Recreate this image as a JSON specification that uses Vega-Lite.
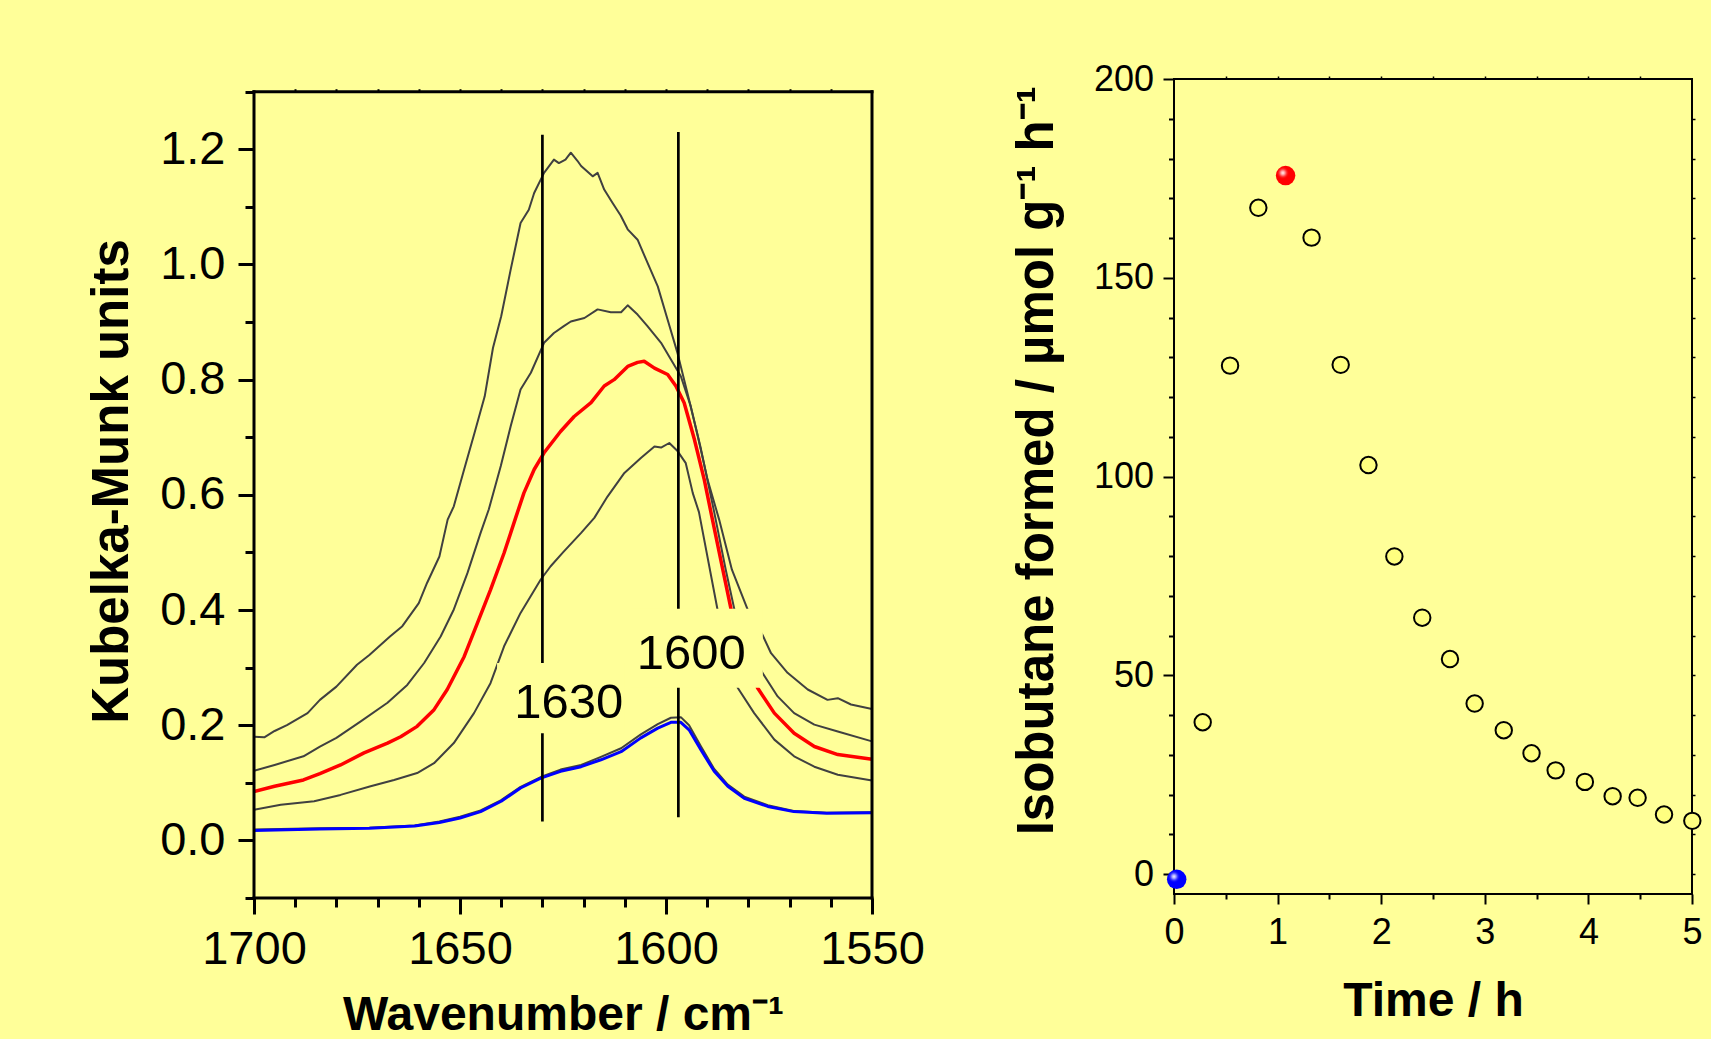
{
  "$schema": "https://vega.github.io/schema/vega-lite/v6.json",
  "background": "#FFFF99",
  "padding": {"left": 86, "top": 60, "right": 5, "bottom": 5},
  "autosize": {"type": "pad"},
  "spacing": 302,
  "bounds": "flush",
  "config": {
    "view": {"stroke": null},
    "font": "Liberation Sans",
    "axis": {"labelFont": "Liberation Sans", "titleFont": "Liberation Sans", "labelColor": "black", "titleColor": "black", "tickColor": "black", "grid": false, "domain": false, "labelOverlap": false, "labelFlush": false, "labelBound": false}
  },
  "datasets": {
    "gray": [
      {"s":"c1","wn":1700,"km":0.180},{"s":"c1","wn":1697.5,"km":0.179},{"s":"c1","wn":1695,"km":0.190},{"s":"c1","wn":1692,"km":0.200},{"s":"c1","wn":1687,"km":0.221},{"s":"c1","wn":1684,"km":0.244},{"s":"c1","wn":1680,"km":0.267},{"s":"c1","wn":1675,"km":0.305},{"s":"c1","wn":1672,"km":0.322},{"s":"c1","wn":1667,"km":0.354},{"s":"c1","wn":1664,"km":0.372},{"s":"c1","wn":1660,"km":0.412},{"s":"c1","wn":1658,"km":0.447},{"s":"c1","wn":1655,"km":0.493},{"s":"c1","wn":1653,"km":0.557},{"s":"c1","wn":1651.5,"km":0.580},{"s":"c1","wn":1649,"km":0.644},{"s":"c1","wn":1646.5,"km":0.707},{"s":"c1","wn":1644,"km":0.771},{"s":"c1","wn":1642,"km":0.855},{"s":"c1","wn":1640,"km":0.910},{"s":"c1","wn":1637.7,"km":0.991},{"s":"c1","wn":1635.3,"km":1.072},{"s":"c1","wn":1633.3,"km":1.095},{"s":"c1","wn":1632,"km":1.124},{"s":"c1","wn":1629.6,"km":1.159},{"s":"c1","wn":1627.2,"km":1.182},{"s":"c1","wn":1626,"km":1.176},{"s":"c1","wn":1624.4,"km":1.182},{"s":"c1","wn":1623.1,"km":1.194},{"s":"c1","wn":1621.5,"km":1.180},{"s":"c1","wn":1620.6,"km":1.171},{"s":"c1","wn":1617.8,"km":1.153},{"s":"c1","wn":1616.6,"km":1.159},{"s":"c1","wn":1615,"km":1.130},{"s":"c1","wn":1613,"km":1.107},{"s":"c1","wn":1611,"km":1.085},{"s":"c1","wn":1609.3,"km":1.061},{"s":"c1","wn":1606.9,"km":1.043},{"s":"c1","wn":1604.5,"km":1.003},{"s":"c1","wn":1602,"km":0.962},{"s":"c1","wn":1599.6,"km":0.904},{"s":"c1","wn":1597.2,"km":0.846},{"s":"c1","wn":1594.8,"km":0.777},{"s":"c1","wn":1592.3,"km":0.702},{"s":"c1","wn":1589.9,"km":0.626},{"s":"c1","wn":1587.1,"km":0.557},{"s":"c1","wn":1584,"km":0.470},{"s":"c1","wn":1580.2,"km":0.401},{"s":"c1","wn":1576.6,"km":0.357},{"s":"c1","wn":1574.5,"km":0.325},{"s":"c1","wn":1570.5,"km":0.291},{"s":"c1","wn":1565.6,"km":0.262},{"s":"c1","wn":1560.8,"km":0.244},{"s":"c1","wn":1558.3,"km":0.247},{"s":"c1","wn":1555.1,"km":0.236},{"s":"c1","wn":1550,"km":0.228},
      {"s":"c2","wn":1700,"km":0.121},{"s":"c2","wn":1695,"km":0.131},{"s":"c2","wn":1688,"km":0.146},{"s":"c2","wn":1684,"km":0.163},{"s":"c2","wn":1680,"km":0.178},{"s":"c2","wn":1674,"km":0.207},{"s":"c2","wn":1667.6,"km":0.239},{"s":"c2","wn":1662.8,"km":0.270},{"s":"c2","wn":1658.7,"km":0.308},{"s":"c2","wn":1654.7,"km":0.354},{"s":"c2","wn":1651.5,"km":0.401},{"s":"c2","wn":1648.2,"km":0.464},{"s":"c2","wn":1645,"km":0.534},{"s":"c2","wn":1643,"km":0.575},{"s":"c2","wn":1640.1,"km":0.650},{"s":"c2","wn":1637.7,"km":0.719},{"s":"c2","wn":1635.3,"km":0.783},{"s":"c2","wn":1632.8,"km":0.812},{"s":"c2","wn":1629.6,"km":0.864},{"s":"c2","wn":1627.2,"km":0.881},{"s":"c2","wn":1624.8,"km":0.893},{"s":"c2","wn":1623.1,"km":0.901},{"s":"c2","wn":1619.8,"km":0.907},{"s":"c2","wn":1616.6,"km":0.922},{"s":"c2","wn":1613.4,"km":0.917},{"s":"c2","wn":1610.9,"km":0.917},{"s":"c2","wn":1609.3,"km":0.929},{"s":"c2","wn":1606.9,"km":0.913},{"s":"c2","wn":1604.5,"km":0.893},{"s":"c2","wn":1601.2,"km":0.864},{"s":"c2","wn":1598.8,"km":0.835},{"s":"c2","wn":1596.4,"km":0.806},{"s":"c2","wn":1594,"km":0.754},{"s":"c2","wn":1591.5,"km":0.679},{"s":"c2","wn":1588.3,"km":0.570},{"s":"c2","wn":1585.5,"km":0.470},{"s":"c2","wn":1583.4,"km":0.401},{"s":"c2","wn":1576.6,"km":0.291},{"s":"c2","wn":1572.9,"km":0.250},{"s":"c2","wn":1568.9,"km":0.221},{"s":"c2","wn":1564,"km":0.201},{"s":"c2","wn":1558.3,"km":0.189},{"s":"c2","wn":1550,"km":0.172},
      {"s":"c3","wn":1700,"km":0.053},{"s":"c3","wn":1693.5,"km":0.062},{"s":"c3","wn":1685.4,"km":0.068},{"s":"c3","wn":1679,"km":0.079},{"s":"c3","wn":1671.7,"km":0.094},{"s":"c3","wn":1666,"km":0.105},{"s":"c3","wn":1660.4,"km":0.117},{"s":"c3","wn":1656.3,"km":0.134},{"s":"c3","wn":1651.5,"km":0.169},{"s":"c3","wn":1646.6,"km":0.221},{"s":"c3","wn":1642.6,"km":0.273},{"s":"c3","wn":1639.3,"km":0.337},{"s":"c3","wn":1635.3,"km":0.395},{"s":"c3","wn":1630.4,"km":0.453},{"s":"c3","wn":1628,"km":0.476},{"s":"c3","wn":1625,"km":0.500},{"s":"c3","wn":1620.6,"km":0.534},{"s":"c3","wn":1617.4,"km":0.560},{"s":"c3","wn":1614.2,"km":0.597},{"s":"c3","wn":1610.1,"km":0.638},{"s":"c3","wn":1606.1,"km":0.664},{"s":"c3","wn":1602.8,"km":0.684},{"s":"c3","wn":1601.2,"km":0.682},{"s":"c3","wn":1599.2,"km":0.690},{"s":"c3","wn":1597.2,"km":0.676},{"s":"c3","wn":1595.2,"km":0.655},{"s":"c3","wn":1593.5,"km":0.603},{"s":"c3","wn":1592,"km":0.570},{"s":"c3","wn":1587.5,"km":0.401},{"s":"c3","wn":1582.6,"km":0.265},{"s":"c3","wn":1578.6,"km":0.221},{"s":"c3","wn":1573.7,"km":0.175},{"s":"c3","wn":1568.9,"km":0.146},{"s":"c3","wn":1564,"km":0.128},{"s":"c3","wn":1558.3,"km":0.114},{"s":"c3","wn":1550,"km":0.104},
      {"s":"c4","wn":1700,"km":0.019},{"s":"c4","wn":1684,"km":0.021},{"s":"c4","wn":1672,"km":0.022},{"s":"c4","wn":1661,"km":0.026},{"s":"c4","wn":1655,"km":0.033},{"s":"c4","wn":1650,"km":0.041},{"s":"c4","wn":1645,"km":0.052},{"s":"c4","wn":1640,"km":0.070},{"s":"c4","wn":1635.3,"km":0.093},{"s":"c4","wn":1630.4,"km":0.110},{"s":"c4","wn":1625.6,"km":0.123},{"s":"c4","wn":1620.6,"km":0.131},{"s":"c4","wn":1615.8,"km":0.145},{"s":"c4","wn":1610.9,"km":0.160},{"s":"c4","wn":1606.1,"km":0.184},{"s":"c4","wn":1602,"km":0.202},{"s":"c4","wn":1598.8,"km":0.213},{"s":"c4","wn":1596.4,"km":0.214},{"s":"c4","wn":1594.4,"km":0.200},{"s":"c4","wn":1591.5,"km":0.163},{"s":"c4","wn":1588.3,"km":0.124},{"s":"c4","wn":1585,"km":0.097},{"s":"c4","wn":1581,"km":0.076},{"s":"c4","wn":1575.3,"km":0.061},{"s":"c4","wn":1569,"km":0.051},{"s":"c4","wn":1561,"km":0.048},{"s":"c4","wn":1550,"km":0.049}
    ],
    "red": [
      {"wn":1700,"km":0.085},{"wn":1695,"km":0.094},{"wn":1688,"km":0.105},{"wn":1684,"km":0.116},{"wn":1679,"km":0.131},{"wn":1673.3,"km":0.152},{"wn":1667.6,"km":0.169},{"wn":1664.4,"km":0.180},{"wn":1660.4,"km":0.198},{"wn":1656.3,"km":0.227},{"wn":1653.1,"km":0.262},{"wn":1649,"km":0.319},{"wn":1645.8,"km":0.377},{"wn":1642.6,"km":0.435},{"wn":1639.3,"km":0.499},{"wn":1636.5,"km":0.560},{"wn":1634.5,"km":0.603},{"wn":1632,"km":0.644},{"wn":1629.6,"km":0.673},{"wn":1625.6,"km":0.710},{"wn":1622.3,"km":0.736},{"wn":1618.2,"km":0.760},{"wn":1615,"km":0.789},{"wn":1612.6,"km":0.800},{"wn":1609.3,"km":0.823},{"wn":1606.9,"km":0.830},{"wn":1605.3,"km":0.832},{"wn":1602.8,"km":0.820},{"wn":1599.6,"km":0.809},{"wn":1597.6,"km":0.789},{"wn":1595.6,"km":0.760},{"wn":1593.1,"km":0.696},{"wn":1590.7,"km":0.626},{"wn":1589.1,"km":0.570},{"wn":1586.5,"km":0.480},{"wn":1584.2,"km":0.401},{"wn":1577.8,"km":0.265},{"wn":1573.7,"km":0.221},{"wn":1568.9,"km":0.186},{"wn":1564,"km":0.163},{"wn":1558.3,"km":0.149},{"wn":1550,"km":0.141}
    ],
    "blue": [
      {"wn":1700,"km":0.017},{"wn":1684,"km":0.020},{"wn":1672,"km":0.021},{"wn":1661,"km":0.025},{"wn":1655,"km":0.031},{"wn":1650,"km":0.039},{"wn":1645,"km":0.050},{"wn":1640,"km":0.068},{"wn":1635.3,"km":0.091},{"wn":1630.4,"km":0.108},{"wn":1625.6,"km":0.120},{"wn":1620.6,"km":0.128},{"wn":1615.8,"km":0.140},{"wn":1610.9,"km":0.154},{"wn":1606.1,"km":0.178},{"wn":1602,"km":0.195},{"wn":1598.8,"km":0.205},{"wn":1596.4,"km":0.205},{"wn":1594.4,"km":0.192},{"wn":1591.5,"km":0.157},{"wn":1588.3,"km":0.120},{"wn":1585,"km":0.094},{"wn":1581,"km":0.073},{"wn":1575.3,"km":0.059},{"wn":1569,"km":0.050},{"wn":1561,"km":0.047},{"wn":1550,"km":0.048}
    ],
    "vlines": [
      {"wn": 1630, "y1": 0.033, "y2": 1.225},
      {"wn": 1597, "y1": 0.040, "y2": 1.230}
    ],
    "frame": [
      {"x1": 1700, "x2": 1700, "y1": -0.1, "y2": 1.3},
      {"x1": 1550, "x2": 1550, "y1": -0.1, "y2": 1.3},
      {"x1": 1700, "x2": 1550, "y1": 1.3, "y2": 1.3},
      {"x1": 1700, "x2": 1550, "y1": -0.1, "y2": -0.1}
    ],
    "masks": [
      {"x1": 1641, "x2": 1610, "y1": 0.186, "y2": 0.308},
      {"x1": 1608.5, "x2": 1576.5, "y1": 0.265, "y2": 0.402}
    ],
    "peaklabels": [
      {"wn": 1623.6, "km": 0.212, "label": "1630"},
      {"wn": 1593.9, "km": 0.2975, "label": "1600"}
    ],
    "rate": [
      {"t": 0.277, "v": 38.2}, {"t": 0.541, "v": 127.9}, {"t": 0.814, "v": 167.6}, {"t": 1.328, "v": 160.1}, {"t": 1.609, "v": 128.1}, {"t": 1.877, "v": 102.9}, {"t": 2.127, "v": 79.9}, {"t": 2.396, "v": 64.5}, {"t": 2.664, "v": 54.1}, {"t": 2.902, "v": 42.9}, {"t": 3.183, "v": 36.2}, {"t": 3.451, "v": 30.4}, {"t": 3.684, "v": 26.1}, {"t": 3.966, "v": 23.2}, {"t": 4.234, "v": 19.6}, {"t": 4.475, "v": 19.2}, {"t": 4.730, "v": 15.0}, {"t": 5.003, "v": 13.4}
    ],
    "rate_red": [{"t": 1.077, "v": 175.7}],
    "rate_blue": [{"t": 0.026, "v": -1.3}]
  },
  "hconcat": [
    {
      "width": 618,
      "height": 819,
      "view": {"stroke": null},
      "resolve": {"axis": {"x": "independent", "y": "independent"}},
      "layer": [
        {
          "data": {"name": "gray"},
          "mark": {"type": "line", "strokeJoin": "round", "color": "#404040", "strokeWidth": 2},
          "encoding": {
            "detail": {"field": "s", "type": "nominal"},
            "x": {"field": "wn", "type": "quantitative",
              "scale": {"domain": [1550, 1700], "reverse": true, "nice": false, "zero": false},
              "axis": {
                "orient": "bottom",
                "title": "Wavenumber / cm⁻¹",
                "values": [1550, 1600, 1650, 1700],
                "format": "d",
                "tickSize": 16,
                "tickWidth": 3,
                "labelFontSize": 47,
                "labelPadding": 12,
                "titleFontSize": 48,
                "titleFontWeight": "bold",
                "titleBaseline": "alphabetic",
                "titleY": 131.7
              }},
            "y": {"field": "km", "type": "quantitative",
              "scale": {"domain": [-0.1, 1.322], "nice": false, "zero": false},
              "axis": {
                "orient": "left",
                "title": "Kubelka-Munk units",
                "values": [0, 0.2, 0.4, 0.6, 0.8, 1.0, 1.2],
                "format": ".1f",
                "tickSize": 16,
                "tickWidth": 3,
                "labelFontSize": 47,
                "labelPadding": 13,
                "titleFontSize": 51,
                "titleFontWeight": "bold",
                "titleBaseline": "alphabetic",
                "titleX": -126.3,
                "titleY": 402
              }}
          }
        },
        {
          "data": {"name": "red"},
          "mark": {"type": "line", "strokeJoin": "round", "color": "#ff0000", "strokeWidth": 3.5},
          "encoding": {
            "x": {"field": "wn", "type": "quantitative", "axis": null},
            "y": {"field": "km", "type": "quantitative", "axis": null}
          }
        },
        {
          "data": {"name": "blue"},
          "mark": {"type": "line", "strokeJoin": "round", "color": "#0000ff", "strokeWidth": 3},
          "encoding": {
            "x": {"field": "wn", "type": "quantitative", "axis": null},
            "y": {"field": "km", "type": "quantitative", "axis": null}
          }
        },
        {
          "data": {"name": "vlines"},
          "mark": {"type": "rule", "color": "black", "strokeWidth": 2.7},
          "encoding": {
            "x": {"field": "wn", "type": "quantitative",
              "axis": {"orient": "bottom", "title": null, "labels": false, "values": [1560,1570,1580,1590,1610,1620,1630,1640,1660,1670,1680,1690], "tickSize": 9, "tickWidth": 3}},
            "y": {"field": "y1", "type": "quantitative",
              "axis": {"orient": "left", "title": null, "labels": false, "values": [-0.1,0.1,0.3,0.5,0.7,0.9,1.1,1.3], "tickSize": 9, "tickWidth": 3}},
            "y2": {"field": "y2"}
          }
        },
        {
          "data": {"name": "masks"},
          "mark": {"type": "rect", "fill": "#FFFF99", "stroke": null},
          "encoding": {
            "x": {"field": "x1", "type": "quantitative",
              "axis": {"orient": "top", "offset": -12.7, "title": null, "labels": false, "values": [1560,1570,1580,1590,1600,1610,1620,1630,1640,1650,1660,1670,1680,1690], "tickSize": 3, "tickWidth": 2}},
            "x2": {"field": "x2"},
            "y": {"field": "y1", "type": "quantitative", "axis": null},
            "y2": {"field": "y2"}
          }
        },
        {
          "data": {"name": "frame"},
          "mark": {"type": "rule", "color": "black", "strokeWidth": 3, "strokeCap": "square"},
          "encoding": {
            "x": {"field": "x1", "type": "quantitative", "axis": null},
            "x2": {"field": "x2"},
            "y": {"field": "y1", "type": "quantitative", "axis": null},
            "y2": {"field": "y2"}
          }
        },
        {
          "data": {"name": "peaklabels"},
          "mark": {"type": "text", "font": "Liberation Sans", "fontSize": 49, "align": "center", "baseline": "alphabetic", "color": "black"},
          "encoding": {
            "x": {"field": "wn", "type": "quantitative", "axis": null},
            "y": {"field": "km", "type": "quantitative", "axis": null},
            "text": {"field": "label"}
          }
        }
      ]
    },
    {
      "width": 518,
      "height": 815,
      "view": {"stroke": "black", "strokeWidth": 2},
      "resolve": {"axis": {"x": "independent", "y": "independent"}},
      "layer": [
        {
          "data": {"name": "rate"},
          "mark": {"type": "circle", "size": 270, "fill": "#FFFF80", "stroke": "black", "strokeWidth": 2, "opacity": 1},
          "encoding": {
            "x": {"field": "t", "type": "quantitative",
              "scale": {"domain": [0, 5], "nice": false, "zero": false},
              "axis": {
                "orient": "bottom",
                "title": "Time / h",
                "values": [0, 1, 2, 3, 4, 5],
                "format": "d",
                "tickSize": 10,
                "tickWidth": 2,
                "labelFontSize": 36,
                "labelPadding": 11.6,
                "titleFontSize": 48,
                "titleFontWeight": "bold",
                "titleBaseline": "alphabetic",
                "titleY": 121.1
              }},
            "y": {"field": "v", "type": "quantitative",
              "scale": {"domain": [-5, 200], "nice": false, "zero": false},
              "axis": {
                "orient": "left",
                "title": "Isobutane formed / µmol g⁻¹ h⁻¹",
                "values": [0, 50, 100, 150, 200],
                "format": "d",
                "tickSize": 11,
                "tickWidth": 2,
                "labelFontSize": 36,
                "labelPadding": 9.5,
                "titleFontSize": 51,
                "titleFontWeight": "bold",
                "titleBaseline": "alphabetic",
                "titleX": -122,
                "titleY": 381.3
              }}
          }
        },
        {
          "data": {"name": "rate_red"},
          "mark": {"type": "circle", "size": 380, "opacity": 1, "stroke": null, "fill": "#ff0000"},
          "encoding": {
            "x": {"field": "t", "type": "quantitative",
              "axis": {"orient": "bottom", "title": null, "labels": false, "values": [0.5, 1.5, 2.5, 3.5, 4.5], "tickSize": 5, "tickWidth": 2}},
            "y": {"field": "v", "type": "quantitative",
              "axis": {"orient": "left", "title": null, "labels": false, "values": [10,20,30,40,60,70,80,90,110,120,130,140,160,170,180,190], "tickSize": 5.5, "tickWidth": 2}}
          }
        },
        {
          "data": {"name": "rate_red"},
          "mark": {"type": "circle", "size": 380, "opacity": 1, "stroke": null,
            "fill": {"gradient": "radial", "x1": 0.36, "y1": 0.36, "r1": 0, "x2": 0.36, "y2": 0.36, "r2": 0.32,
              "stops": [{"offset": 0, "color": "rgba(255,255,255,1)"}, {"offset": 0.35, "color": "rgba(255,190,190,0.8)"}, {"offset": 1, "color": "rgba(255,0,0,0)"}]}},
          "encoding": {
            "x": {"field": "t", "type": "quantitative", "axis": null},
            "y": {"field": "v", "type": "quantitative", "axis": null}
          }
        },
        {
          "data": {"name": "rate_blue"},
          "mark": {"type": "circle", "size": 380, "opacity": 1, "stroke": null, "fill": "#0000ff"},
          "encoding": {
            "x": {"field": "t", "type": "quantitative",
              "axis": {"orient": "top", "title": null, "labels": false, "values": [0.5,1,1.5,2,2.5,3,3.5,4,4.5], "tickSize": 3, "tickWidth": 1.5}},
            "y": {"field": "v", "type": "quantitative",
              "axis": {"orient": "right", "title": null, "labels": false, "values": [0,10,20,30,40,50,60,70,80,90,100,110,120,130,140,150,160,170,180,190], "tickSize": 3, "tickWidth": 1.5}}
          }
        },
        {
          "data": {"name": "rate_blue"},
          "mark": {"type": "circle", "size": 380, "opacity": 1, "stroke": null,
            "fill": {"gradient": "radial", "x1": 0.36, "y1": 0.36, "r1": 0, "x2": 0.36, "y2": 0.36, "r2": 0.32,
              "stops": [{"offset": 0, "color": "rgba(255,255,255,1)"}, {"offset": 0.35, "color": "rgba(190,190,255,0.8)"}, {"offset": 1, "color": "rgba(0,0,255,0)"}]}},
          "encoding": {
            "x": {"field": "t", "type": "quantitative", "axis": null},
            "y": {"field": "v", "type": "quantitative", "axis": null}
          }
        }
      ]
    }
  ]
}
